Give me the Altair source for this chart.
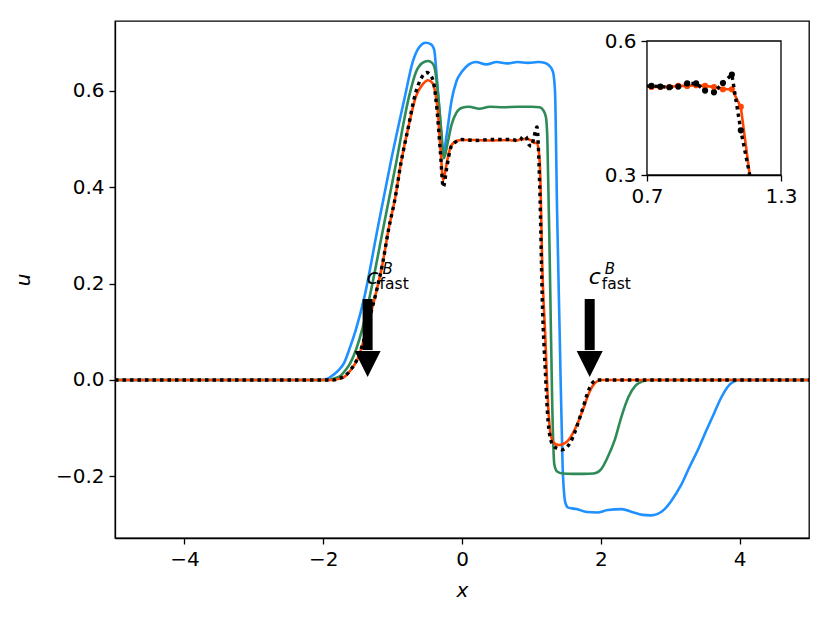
import altair as alt
import pandas as pd

# ---------------- data ----------------
blue_x = [-5, -2.05, -1.95, -1.86, -1.78, -1.70, -1.62, -1.53, -1.405, -1.22, -1.03, -0.82, -0.71, -0.62, -0.52,
          -0.45, -0.40, -0.37, -0.32, -0.27, -0.22, -0.15, -0.08, 0.0, 0.1, 0.2, 0.35, 0.5, 0.65, 0.8, 0.95, 1.1,
          1.2, 1.26, 1.31, 1.34, 1.37, 1.41, 1.45, 1.49, 1.53, 1.65, 1.8, 1.95, 2.1, 2.3, 2.45, 2.6, 2.72, 2.82,
          2.92, 3.02, 3.15, 3.28, 3.40, 3.52, 3.63, 3.73, 3.83, 3.92, 4.0, 5]
blue_u = [0, 0, 0.002, 0.01, 0.02, 0.035, 0.065, 0.104, 0.173, 0.311, 0.45, 0.59, 0.66, 0.69, 0.70,
          0.697, 0.685, 0.64, 0.55, 0.47, 0.51, 0.58, 0.62, 0.64, 0.655, 0.66, 0.655, 0.66, 0.657, 0.66, 0.658, 0.66,
          0.658, 0.652, 0.64, 0.60, 0.35, 0.08, -0.18, -0.255, -0.265, -0.268, -0.274, -0.275, -0.27, -0.268, -0.274,
          -0.28, -0.281, -0.278, -0.268, -0.25, -0.22, -0.18, -0.145, -0.105, -0.07, -0.038, -0.014, -0.003, 0, 0]

green_x = [-5, -1.92, -1.84, -1.74, -1.68, -1.61, -1.44, -1.33, -1.14, -0.95, -0.76, -0.66, -0.57, -0.49, -0.43,
           -0.39, -0.35, -0.30, -0.26, -0.21, -0.15, -0.08, 0.0, 0.1, 0.25, 0.4, 0.6, 0.8, 1.0, 1.12, 1.17, 1.21,
           1.23, 1.27, 1.30, 1.33, 1.37, 1.45, 1.6, 1.75, 1.9, 2.0, 2.1, 2.2, 2.3, 2.4, 2.5, 2.6, 2.7, 5]
green_u = [0, 0, 0.003, 0.01, 0.02, 0.035, 0.104, 0.173, 0.311, 0.45, 0.59, 0.64, 0.658, 0.662, 0.658,
           0.645, 0.60, 0.52, 0.46, 0.49, 0.53, 0.555, 0.565, 0.567, 0.563, 0.567, 0.566, 0.567, 0.567, 0.566, 0.56,
           0.545, 0.50, 0.20, -0.05, -0.175, -0.19, -0.194, -0.195, -0.195, -0.194, -0.186, -0.16, -0.125, -0.075,
           -0.035, -0.012, -0.003, 0, 0]

orange_x = [-5, -1.85, -1.76, -1.68, -1.60, -1.50, -1.42, -1.34, -1.24, -1.14, -1.06, -0.96, -0.88, -0.78, -0.66,
            -0.57, -0.49, -0.43, -0.39, -0.35, -0.31, -0.27, -0.22, -0.16, -0.08, 0.0, 0.2, 0.4, 0.68, 0.72, 0.76,
            0.80, 0.84, 0.88, 0.92, 0.96, 1.00, 1.04, 1.08, 1.12, 1.16, 1.20, 1.24, 1.28, 1.32, 1.36, 1.40, 1.44,
            1.48, 1.52, 1.56, 1.60, 1.64, 1.68, 1.72, 1.76, 1.80, 1.84, 1.88, 1.92, 1.96, 2.0, 5]
orange_u = [0, 0, 0.003, 0.008, 0.021, 0.045, 0.08, 0.125, 0.18, 0.245, 0.311, 0.38, 0.45, 0.52, 0.59,
            0.613, 0.622, 0.617, 0.60, 0.56, 0.48, 0.415, 0.45, 0.485, 0.496, 0.498, 0.498, 0.497, 0.498, 0.497, 0.497,
            0.497, 0.4995, 0.4995, 0.501, 0.4995, 0.497, 0.492, 0.492, 0.4526, 0.22, 0.09, -0.05, -0.115, -0.13,
            -0.134, -0.135, -0.134, -0.131, -0.127, -0.12, -0.11, -0.098, -0.085, -0.07, -0.055, -0.038, -0.024,
            -0.013, -0.006, -0.002, 0, 0]

black_x = [-5, -1.86, -1.77, -1.68, -1.60, -1.50, -1.42, -1.34, -1.24, -1.14, -1.06, -0.96, -0.88, -0.78, -0.67,
           -0.58, -0.51, -0.45, -0.40, -0.36, -0.31, -0.27, -0.22, -0.16, -0.08, 0.0, 0.2, 0.4, 0.68, 0.72, 0.76,
           0.80, 0.84, 0.88, 0.92, 0.96, 1.00, 1.04, 1.08, 1.12, 1.16, 1.20, 1.24, 1.28, 1.32, 1.36, 1.40, 1.44,
           1.48, 1.52, 1.56, 1.60, 1.64, 1.68, 1.72, 1.76, 1.80, 1.84, 1.88, 1.92, 1.96, 5]
black_u = [0, 0, 0.003, 0.009, 0.022, 0.046, 0.08, 0.125, 0.18, 0.245, 0.311, 0.38, 0.45, 0.52, 0.595,
           0.628, 0.638, 0.632, 0.61, 0.56, 0.47, 0.40, 0.44, 0.483, 0.495, 0.499, 0.497, 0.499, 0.499, 0.4995, 0.498,
           0.4965, 0.498, 0.505, 0.505, 0.489, 0.485, 0.506, 0.525, 0.40, 0.15, 0.02, -0.085, -0.125, -0.137,
           -0.141, -0.143, -0.145, -0.143, -0.138, -0.13, -0.118, -0.103, -0.086, -0.068, -0.05, -0.031, -0.016,
           -0.006, -0.001, 0, 0]

# annotation arrows (c_fast^B)
arrow_x = [-1.36, 1.84]
arrow_top = [0.168, 0.168]
arrow_base = [0.062, 0.062]
arrow_tip = [0.006, 0.006]
label_u = [0.199, 0.199]

# axes limits / ticks
x_lim = [-5, 5]
u_lim = [-0.328, 0.745]
x_ticks = [-4, -2, 0, 2, 4]
u_ticks = [-0.2, 0.0, 0.2, 0.4, 0.6]
inset_xlim = [0.7, 1.3]
inset_ulim = [0.3, 0.6]

# ---------------- styling ----------------
W, H = 694, 517
FONT = "DejaVu Sans"
BLUE, GREEN, ORANGE = "#1E90FF", "#2E8B57", "#FF4500"


def df(xs, us):
    return pd.DataFrame({"x": xs, "u": us})


xs = alt.Scale(domain=x_lim, nice=False, zero=False)
ys = alt.Scale(domain=u_lim, nice=False, zero=False)
xaxis = alt.Axis(values=x_ticks, format="d", title="x", titleFontStyle="italic", titleFontWeight="normal",
                 titleFontSize=20, titleFont=FONT, titlePadding=11, labelPadding=5)
yaxis = alt.Axis(values=u_ticks, format=".1f", title="u", titleFontStyle="italic", titleFontWeight="normal",
                 titleFontSize=20, titleFont=FONT, titlePadding=22, labelPadding=5)


def enc(chart, ycol="u"):
    return chart.encode(x=alt.X("x:Q", scale=xs, axis=xaxis), y=alt.Y(f"{ycol}:Q", scale=ys, axis=yaxis))


blue = enc(alt.Chart(df(blue_x, blue_u)).mark_line(color=BLUE, strokeWidth=2.6, clip=True,
                                                   interpolate="monotone"))
green = enc(alt.Chart(df(green_x, green_u)).mark_line(color=GREEN, strokeWidth=2.6, clip=True,
                                                      interpolate="monotone"))
orange = enc(alt.Chart(df(orange_x, orange_u)).mark_line(color=ORANGE, strokeWidth=2.6, clip=True,
                                                         interpolate="monotone"))
black = enc(alt.Chart(df(black_x, black_u)).mark_line(color="black", strokeWidth=3.4, strokeDash=[3.5, 4],
                                                      clip=True, interpolate="monotone"))

arr = pd.DataFrame({"x": arrow_x, "top": arrow_top, "base": arrow_base, "tip": arrow_tip, "lab": label_u})
shaft = alt.Chart(arr).mark_rule(color="black", strokeWidth=10, strokeCap="butt").encode(
    x=alt.X("x:Q", scale=xs, axis=xaxis), y=alt.Y("top:Q", scale=ys, axis=yaxis), y2="base:Q")
head = alt.Chart(arr).mark_point(shape="M-1,-2L1,-2L0,0Z", size=676, filled=True, color="black",
                                 opacity=1, strokeWidth=0).encode(
    x=alt.X("x:Q", scale=xs, axis=xaxis), y=alt.Y("tip:Q", scale=ys, axis=yaxis))
txt_c = alt.Chart(arr).mark_text(text="c", font=FONT, fontStyle="italic", fontSize=22, align="left",
                                 baseline="alphabetic", color="black", dx=-1).encode(
    x=alt.X("x:Q", scale=xs, axis=xaxis), y=alt.Y("lab:Q", scale=ys, axis=yaxis))
txt_b = alt.Chart(arr).mark_text(text="B", font=FONT, fontStyle="italic", fontSize=15, align="left",
                                 baseline="alphabetic", color="black", dx=15, dy=-10).encode(
    x=alt.X("x:Q", scale=xs, axis=xaxis), y=alt.Y("lab:Q", scale=ys, axis=yaxis))
txt_f = alt.Chart(arr).mark_text(text="fast", font=FONT, fontSize=15.5, align="left",
                                 baseline="alphabetic", color="black", dx=12, dy=5).encode(
    x=alt.X("x:Q", scale=xs, axis=xaxis), y=alt.Y("lab:Q", scale=ys, axis=yaxis))

main = alt.layer(blue, green, orange, black, shaft, head, txt_c, txt_b, txt_f)

# ---------------- inset ----------------
ixs = alt.Scale(domain=inset_xlim, range=[532, 666], clamp=True, nice=False, zero=False)
iys = alt.Scale(domain=inset_ulim, range=[154, 20], clamp=True, nice=False, zero=False)
ixaxis = alt.Axis(values=inset_xlim, format=".1f", orient="bottom", offset=-(H - 154), title=None,
                  labelFlush=False, labelOverlap=False, labelPadding=5)
iyaxis = alt.Axis(values=inset_ulim, format=".1f", orient="left", offset=-532, title=None,
                  labelOverlap=False, labelPadding=5)

box = alt.Chart(pd.DataFrame({"x0": [inset_xlim[0]], "x1": [inset_xlim[1]],
                              "y0": [inset_ulim[0]], "y1": [inset_ulim[1]]})).mark_rect(
    fill="white", stroke="black", strokeWidth=1.3).encode(
    x=alt.X("x0:Q", scale=ixs, axis=ixaxis), x2="x1:Q",
    y=alt.Y("y0:Q", scale=iys, axis=iyaxis), y2="y1:Q")

near = "datum.x >= 0.67 && datum.x <= 1.17"
inside = "datum.x >= 0.7 && datum.u >= 0.3"


def ienc(chart):
    return chart.encode(x=alt.X("x:Q", scale=ixs, axis=ixaxis), y=alt.Y("u:Q", scale=iys, axis=iyaxis))


i_or_line = ienc(alt.Chart(df(orange_x, orange_u)).transform_filter(near).mark_line(color=ORANGE, strokeWidth=2.6))
i_or_pts = ienc(alt.Chart(df(orange_x, orange_u)).transform_filter(near).transform_filter(inside)
                .mark_circle(color=ORANGE, size=38, opacity=1))
i_bk_line = ienc(alt.Chart(df(black_x, black_u)).transform_filter(near).mark_line(
    color="black", strokeWidth=3.4, strokeDash=[3.5, 4]))
i_bk_pts = ienc(alt.Chart(df(black_x, black_u)).transform_filter(near).transform_filter(inside)
                .mark_circle(color="black", size=38, opacity=1))

inset = alt.layer(box, i_or_line, i_or_pts, i_bk_line, i_bk_pts)

chart = alt.layer(main, inset).resolve_scale(x="independent", y="independent").properties(
    width=W, height=H,
    autosize=alt.AutoSizeParams(type="none"),
    padding={"left": 107, "top": 13, "right": 13, "bottom": 73},
).configure_view(stroke="black", strokeWidth=1.3).configure_axis(
    labelFont=FONT, labelFontSize=20, labelColor="black", tickColor="black", tickSize=6, tickWidth=1.3,
    domainColor="black", domainWidth=1.3, grid=False, titleColor="black"
)

chart.save("out.html", embed_options={"renderer": "svg", "actions": False})
